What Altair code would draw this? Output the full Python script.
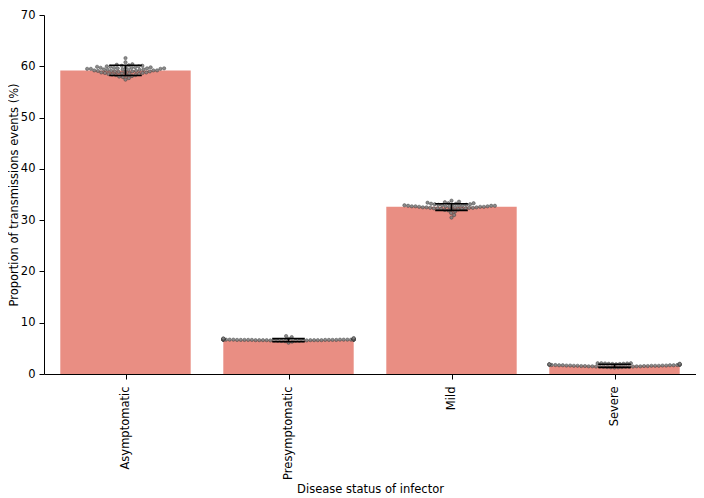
import math
import pandas as pd
import altair as alt

# ---------------- data ----------------
categories = ["Asymptomatic", "Presymptomatic", "Mild", "Severe"]
bar_means = [59.2, 6.6, 32.6, 1.6]
err_low = [58.2, 6.3, 31.9, 1.3]
err_high = [60.2, 6.9, 33.2, 1.9]

asymptomatic_runs = [57.4, 57.7, 57.9, 58.0, 58.1, 58.2, 58.3, 58.3, 58.4, 58.5,
                     58.5, 58.6, 58.6, 58.7, 58.7, 58.8, 58.8, 58.9, 58.9, 59.0,
                     59.0, 59.0, 59.1, 59.1, 59.1, 59.2, 59.2, 59.2, 59.3, 59.3,
                     59.3, 59.4, 59.4, 59.4, 59.5, 59.5, 59.5, 59.6, 59.6, 59.6,
                     59.7, 59.7, 59.7, 59.8, 59.8, 59.8, 59.9, 59.9, 60.0, 60.0,
                     60.1, 60.1, 60.2, 60.3, 60.4, 60.8, 61.6]
presymptomatic_runs = [6.1, 6.3, 6.4, 6.45, 6.5, 6.5, 6.5, 6.55, 6.55, 6.55,
                       6.55, 6.6, 6.6, 6.6, 6.6, 6.6, 6.6, 6.6, 6.6, 6.65,
                       6.65, 6.65, 6.65, 6.65, 6.65, 6.65, 6.65, 6.65, 6.7, 6.7,
                       6.7, 6.7, 6.7, 6.7, 6.7, 6.7, 6.7, 6.7, 6.7, 6.7,
                       6.75, 6.75, 6.75, 6.75, 6.75, 6.75, 6.75, 6.8, 6.8, 6.8,
                       6.8, 6.85, 6.85, 6.9, 6.95, 7.0, 7.2, 7.4]
mild_runs = [30.5, 31.0, 31.4, 31.7, 31.9, 32.0, 32.1, 32.1, 32.2, 32.2,
             32.3, 32.3, 32.3, 32.4, 32.4, 32.4, 32.5, 32.5, 32.5, 32.5,
             32.6, 32.6, 32.6, 32.6, 32.7, 32.7, 32.7, 32.7, 32.8, 32.8,
             32.8, 32.8, 32.9, 32.9, 32.9, 33.0, 33.0, 33.0, 33.1, 33.1,
             33.2, 33.2, 33.3, 33.3, 33.4, 33.5, 33.6, 33.8]
severe_runs = [1.25, 1.3, 1.3, 1.35, 1.35, 1.4, 1.4, 1.4, 1.45, 1.45,
               1.45, 1.5, 1.5, 1.5, 1.5, 1.55, 1.55, 1.55, 1.55, 1.6,
               1.6, 1.6, 1.6, 1.6, 1.65, 1.65, 1.65, 1.65, 1.7, 1.7,
               1.7, 1.7, 1.75, 1.75, 1.75, 1.8, 1.8, 1.8, 1.85, 1.85,
               1.85, 1.9, 1.9, 1.9, 1.95, 1.95, 2.0, 2.0, 2.0, 2.05,
               2.05, 2.1, 2.1, 2.1]
swarm_values = [asymptomatic_runs, presymptomatic_runs, mild_runs, severe_runs]

y_ticks = [0, 10, 20, 30, 40, 50, 60, 70]
x_title = "Disease status of infector"
y_title = "Proportion of transmissions events (%)"

# ---------------- layout ----------------
W, H = 652, 359
Y_MAX = 70
PPU = H / Y_MAX
STEP = W / len(categories)
HALF = 0.4 * STEP
D = 3.7  # dot diameter in px used for the swarm layout


def beeswarm(vals):
    order = sorted(range(len(vals)), key=lambda i: vals[i])
    placed = []
    xs = [0.0] * len(vals)
    for i in order:
        y = vals[i] * PPU
        nb = [(px, py) for px, py in placed if abs(py - y) < D]
        cands = [0.0]
        for px, py in nb:
            dx = math.sqrt(max(D * D - (py - y) ** 2, 0))
            cands += [px + dx, px - dx]
        cands.sort(key=abs)
        x = cands[-1]
        for c in cands:
            if all((c - px) ** 2 + (y - py) ** 2 >= D * D - 1e-6 for px, py in nb):
                x = c
                break
        placed.append((x, y))
        xs[i] = max(-HALF, min(HALF, x))
    return xs


pt_rows = []
for idx, vals in enumerate(swarm_values):
    offs = beeswarm(vals)
    for v, o in zip(vals, offs):
        pt_rows.append({"idx": idx, "value": v, "xpos": idx + o / STEP})
pts = pd.DataFrame(pt_rows)

bar_df = pd.DataFrame({
    "idx": list(range(len(categories))),
    "category": categories,
    "mean": bar_means,
    "lo": err_low,
    "hi": err_high,
})

FONT = "DejaVu Sans"
FS = 11.5
label_expr = "[" + ",".join(f"'{c}'" for c in categories) + "][datum.value]"

x_scale = alt.Scale(domain=[-0.5, len(categories) - 0.5], nice=False, zero=False)
y_scale = alt.Scale(domain=[0, Y_MAX], nice=False, zero=True)

x_axis = alt.Axis(
    values=list(range(len(categories))), labelExpr=label_expr, labelAngle=270,
    tickSize=5, labelPadding=7, titlePadding=4, grid=False,
    labelFlush=False, labelOverlap=False,
    domainColor="black", tickColor="black", labelColor="black", titleColor="black",
    domainWidth=1, tickWidth=1,
    labelFont=FONT, labelFontSize=FS, titleFont=FONT, titleFontSize=FS,
    titleFontWeight="normal",
)
y_axis = alt.Axis(
    values=y_ticks, tickSize=5, labelPadding=4, grid=False,
    domainColor="black", tickColor="black", labelColor="black", titleColor="black",
    domainWidth=1, tickWidth=1,
    labelFont=FONT, labelFontSize=FS, titleFont=FONT, titleFontSize=FS,
    titleFontWeight="normal", titleAngle=270, titleX=-27, titleY=H / 2,
    titleBaseline="alphabetic", titleAlign="center",
)


def X(field):
    return alt.X(field, scale=x_scale, axis=x_axis, title=x_title)


def Y(field):
    return alt.Y(field, scale=y_scale, axis=y_axis, title=y_title)


bars = alt.Chart(bar_df).transform_calculate(
    x0="datum.idx - 0.4", x1="datum.idx + 0.4", base="0"
).mark_bar(color="#E98E83").encode(
    x=X("x0:Q"), x2="x1:Q", y=Y("mean:Q"), y2="base:Q",
)

points = alt.Chart(pts).mark_circle(
    size=11, color="#808080", stroke="#333333", strokeWidth=0.5, opacity=0.9
).encode(
    x=X("xpos:Q"), y=Y("value:Q"),
)

err_line = alt.Chart(bar_df).mark_rule(color="black", strokeWidth=1.6).encode(
    x=X("idx:Q"), y=Y("lo:Q"), y2="hi:Q",
)

caps_base = alt.Chart(bar_df).transform_calculate(
    c0="datum.idx - 0.1", c1="datum.idx + 0.1"
)
cap_lo = caps_base.mark_rule(color="black", strokeWidth=1.6).encode(
    x=X("c0:Q"), x2="c1:Q", y=Y("lo:Q"),
)
cap_hi = caps_base.mark_rule(color="black", strokeWidth=1.6).encode(
    x=X("c0:Q"), x2="c1:Q", y=Y("hi:Q"),
)

chart = alt.layer(bars, points, err_line, cap_lo, cap_hi).properties(
    width=W, height=H,
    autosize=alt.AutoSizeParams(type="none"),
    padding={"left": 36, "top": 7, "right": 0, "bottom": 124},
    background="white",
).configure_view(stroke=None)

chart.save("out.html", embed_options={"renderer": "svg", "actions": False})
